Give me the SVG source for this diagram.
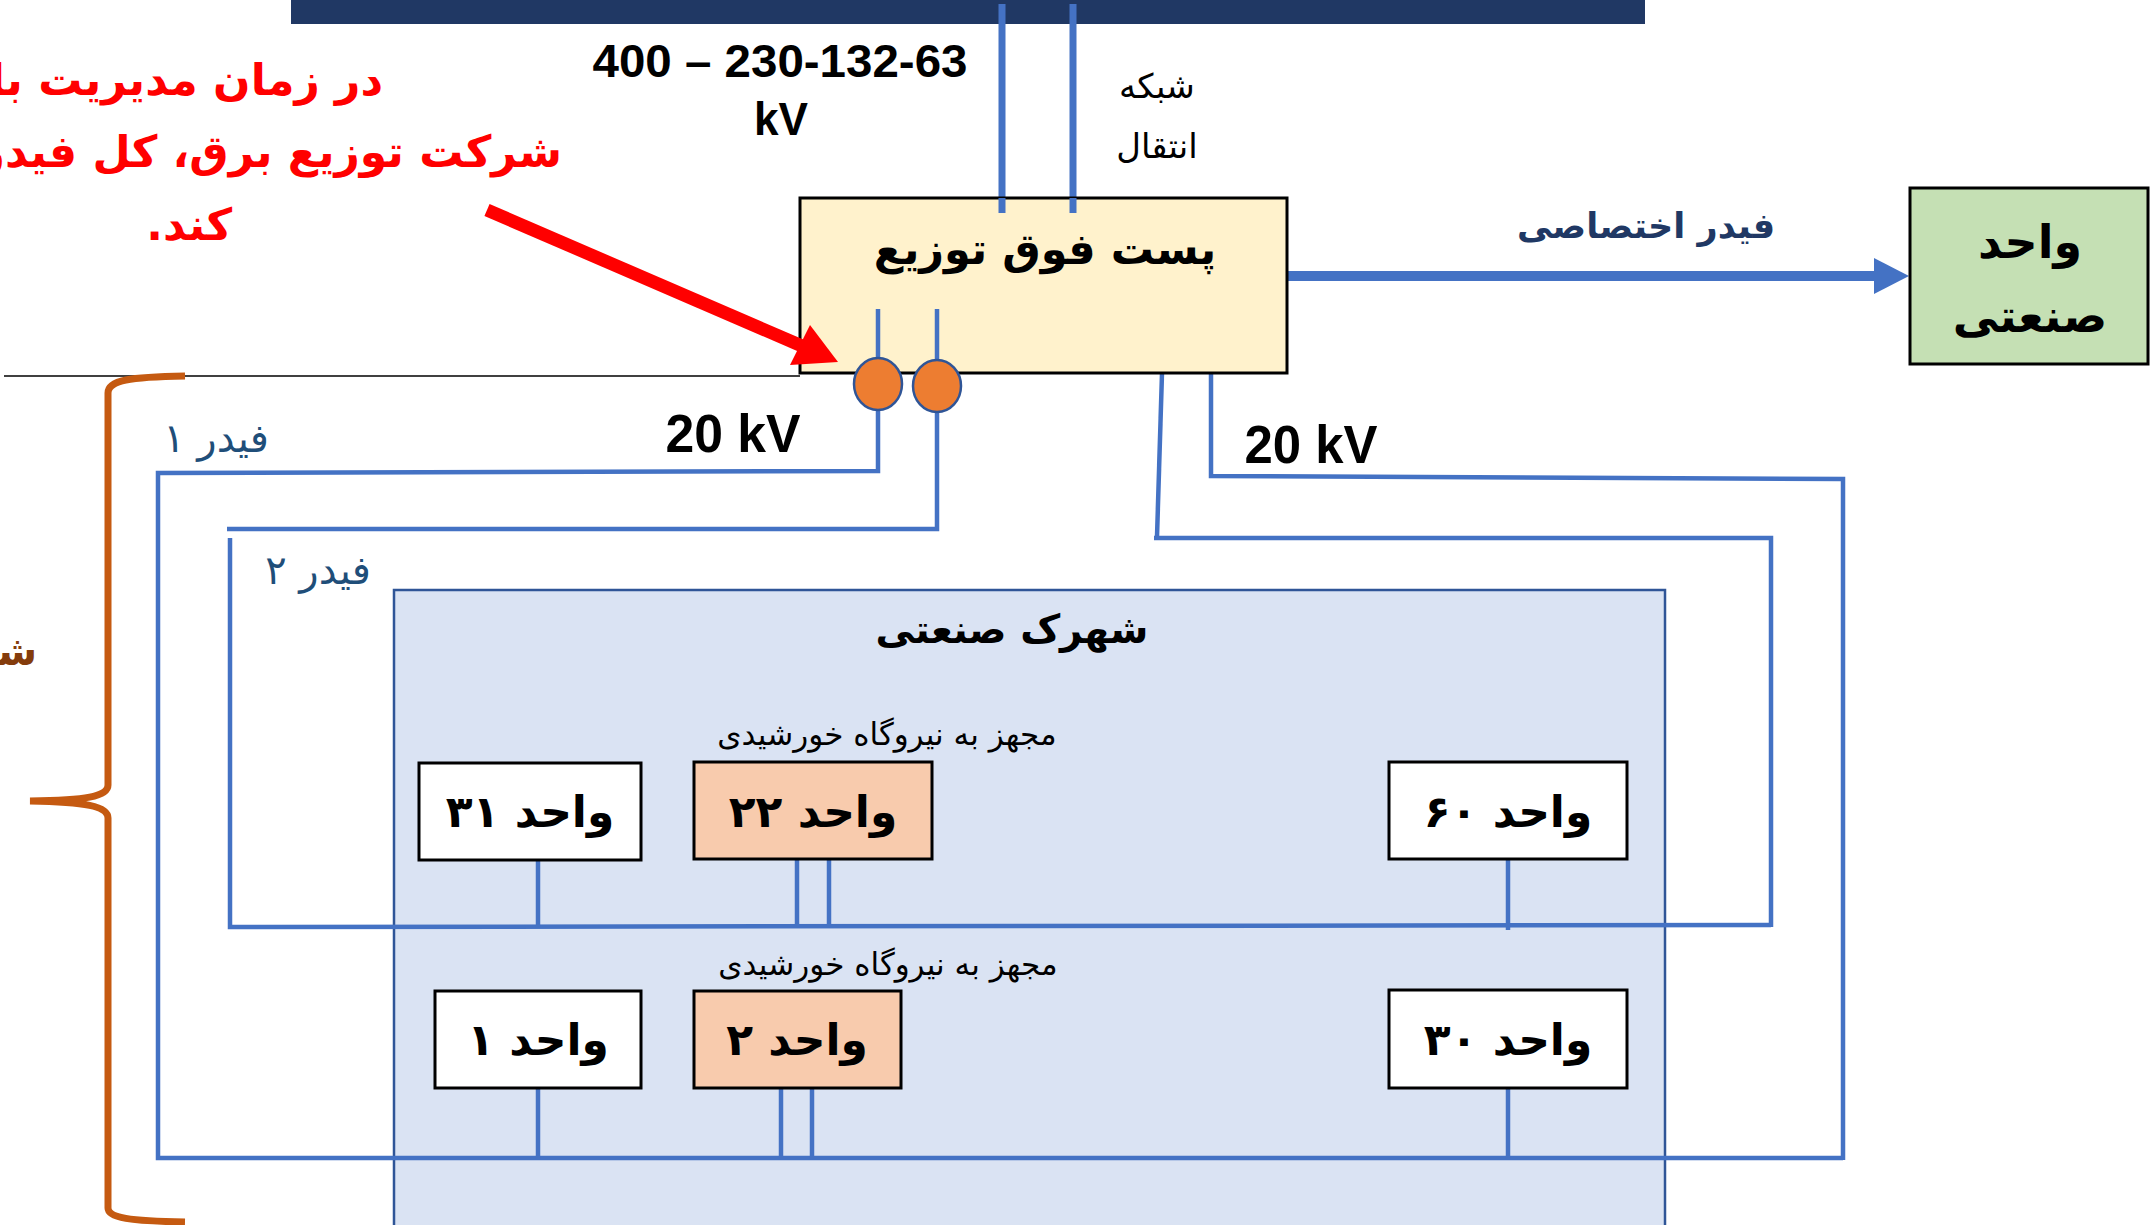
<svg xmlns="http://www.w3.org/2000/svg" width="2152" height="1225" viewBox="0 0 2152 1225">
<defs>
<style>
.ar{font-family:"DejaVu Sans","Noto Sans",sans-serif;text-anchor:middle;direction:rtl}
.rs{text-anchor:start}
.b{font-weight:bold}
.lat{font-family:"Liberation Sans",Arial,sans-serif;font-weight:bold;text-anchor:middle;fill:#000}
.unit{stroke:#000;stroke-width:3}
.wire{fill:none;stroke:#4472C4;stroke-width:4.5}
.red{fill:#FF0000}
</style>
</defs>
<rect width="2152" height="1225" fill="#fff"/>

<!-- industrial park background -->
<g id="park">
<rect x="394" y="590" width="1271" height="700" fill="#DAE3F3" stroke="#2F5597" stroke-width="2.5"/>
<text class="ar b" x="1012" y="643" font-size="39" fill="#000">شهرک صنعتی</text>
<text class="ar" x="887" y="745" font-size="31" fill="#000">مجهز به نیروگاه خورشیدی</text>
<text class="ar" x="888" y="975" font-size="31" fill="#000">مجهز به نیروگاه خورشیدی</text>
</g>

<!-- top bus bar -->
<g id="busbar"><rect x="291" y="0" width="1354" height="24" fill="#203864"/></g>

<!-- connectors -->
<g id="connectors">
<line x1="1002" y1="4" x2="1002" y2="213" stroke="#4472C4" stroke-width="7"/>
<line x1="1073" y1="4" x2="1073" y2="213" stroke="#4472C4" stroke-width="7"/>
<line x1="4" y1="376" x2="800" y2="376" stroke="#000" stroke-width="1.5"/>
<!-- feeder 1 -->
<polyline class="wire" points="878,410 878,471 158,473 158,1158 1843,1158"/>
<!-- feeder 2 -->
<polyline class="wire" points="937,412 937,529 227,529"/>
<polyline class="wire" points="230,538 230,927 1771,925"/>
<!-- right feeders -->
<polyline class="wire" points="1162,373 1157,537"/>
<polyline class="wire" points="1154,538 1771,538 1771,927"/>
<polyline class="wire" points="1211,373 1211,476 1843,479 1843,1160"/>
<!-- unit taps -->
<line class="wire" x1="538" y1="860" x2="538" y2="928"/>
<line class="wire" x1="797" y1="859" x2="797" y2="928"/>
<line class="wire" x1="829" y1="859" x2="829" y2="926"/>
<line class="wire" x1="1508" y1="859" x2="1508" y2="930"/>
<line class="wire" x1="538" y1="1088" x2="538" y2="1159"/>
<line class="wire" x1="781" y1="1088" x2="781" y2="1159"/>
<line class="wire" x1="812" y1="1088" x2="812" y2="1159"/>
<line class="wire" x1="1508" y1="1088" x2="1508" y2="1159"/>
<!-- dedicated feeder -->
<line x1="1287" y1="276" x2="1876" y2="276" stroke="#4472C4" stroke-width="10"/>
<polygon points="1874,258 1909,276 1874,294" fill="#4472C4"/>
</g>

<!-- substation -->
<g id="substation">
<rect x="800" y="198" width="487" height="175" fill="#FFF2CC" stroke="#000" stroke-width="3"/>
<text class="ar b" x="1045" y="264" font-size="43" fill="#000">پست فوق توزیع</text>
<line x1="1002" y1="198" x2="1002" y2="213" stroke="#4472C4" stroke-width="7"/>
<line x1="1073" y1="198" x2="1073" y2="213" stroke="#4472C4" stroke-width="7"/>
<line x1="878" y1="309" x2="878" y2="360" stroke="#4472C4" stroke-width="4.5"/>
<line x1="937" y1="309" x2="937" y2="362" stroke="#4472C4" stroke-width="4.5"/>
<ellipse cx="878" cy="384" rx="24" ry="26" fill="#ED7D31" stroke="#2F5597" stroke-width="2.5"/>
<ellipse cx="937" cy="386" rx="24" ry="26" fill="#ED7D31" stroke="#2F5597" stroke-width="2.5"/>
</g>

<!-- industrial unit (dedicated) -->
<g id="industrial-unit">
<rect x="1910" y="188" width="238" height="176" fill="#C5E0B4" stroke="#000" stroke-width="3"/>
<text class="ar b" x="2030" y="258" font-size="46" fill="#000">واحد</text>
<text class="ar b" x="2030" y="332" font-size="46" fill="#000">صنعتی</text>
</g>

<g id="unit31"><rect class="unit" x="419" y="763" width="222" height="97" fill="#fff"/><text class="ar b" x="530" y="827" font-size="44">واحد ۳۱</text></g>
<g id="unit22"><rect class="unit" x="694" y="762" width="238" height="97" fill="#F8CBAD"/><text class="ar b" x="813" y="827" font-size="44">واحد ۲۲</text></g>
<g id="unit60"><rect class="unit" x="1389" y="762" width="238" height="97" fill="#fff"/><text class="ar b" x="1508" y="827" font-size="44">واحد ۶۰</text></g>
<g id="unit1"><rect class="unit" x="435" y="991" width="206" height="97" fill="#fff"/><text class="ar b" x="538" y="1055" font-size="44">واحد ۱</text></g>
<g id="unit2"><rect class="unit" x="694" y="991" width="207" height="97" fill="#F8CBAD"/><text class="ar b" x="797" y="1055" font-size="44">واحد ۲</text></g>
<g id="unit30"><rect class="unit" x="1389" y="990" width="238" height="98" fill="#fff"/><text class="ar b" x="1508" y="1055" font-size="44">واحد ۳۰</text></g>

<!-- labels -->
<g id="labels">
<text class="lat" x="780" y="77" font-size="47" textLength="375" lengthAdjust="spacingAndGlyphs">400 – 230-132-63</text>
<text class="lat" x="781" y="135" font-size="47" textLength="54" lengthAdjust="spacingAndGlyphs">kV</text>
<text class="ar" x="1157" y="98" font-size="34" fill="#000">شبکه</text>
<text class="ar" x="1157" y="158" font-size="34" fill="#000">انتقال</text>
<text class="lat" x="733" y="452" font-size="54" textLength="135" lengthAdjust="spacingAndGlyphs">20 kV</text>
<text class="lat" x="1311" y="463" font-size="54" textLength="133" lengthAdjust="spacingAndGlyphs">20 kV</text>
<text class="ar" x="1646" y="238" font-size="35" font-weight="bold" fill="#203864">فیدر اختصاصی</text>
<text class="ar" x="216" y="452" font-size="40" fill="#1F4E79">فیدر ۱</text>
<text class="ar" x="318" y="584" font-size="40" fill="#1F4E79">فیدر ۲</text>
<text class="ar b rs" x="37" y="665" font-size="40" fill="#843C0C">شبکه توزیع</text>
</g>

<!-- annotation -->
<g id="annotation">
<text class="ar b red rs" x="383" y="95" font-size="44">در زمان مدیریت بار،</text>
<text class="ar b red rs" x="562" y="167" font-size="44">شرکت توزیع برق، کل فیدر را قطع می</text>
<text class="ar b red rs" x="232" y="240" font-size="44">کند.</text>
<line x1="487" y1="210" x2="802" y2="346" stroke="#FF0000" stroke-width="13"/>
<polygon points="790,365 838,362 810,325" fill="#FF0000"/>
</g>

<!-- brace -->
<g id="brace">
<path d="M185,376 C130,377 108,380 108,393 L108,785 C108,797 85,800 30,801 C85,802 108,806 108,818 L108,1208 C108,1218 130,1221 185,1222" fill="none" stroke="#C55A11" stroke-width="7"/>
</g>
</svg>
